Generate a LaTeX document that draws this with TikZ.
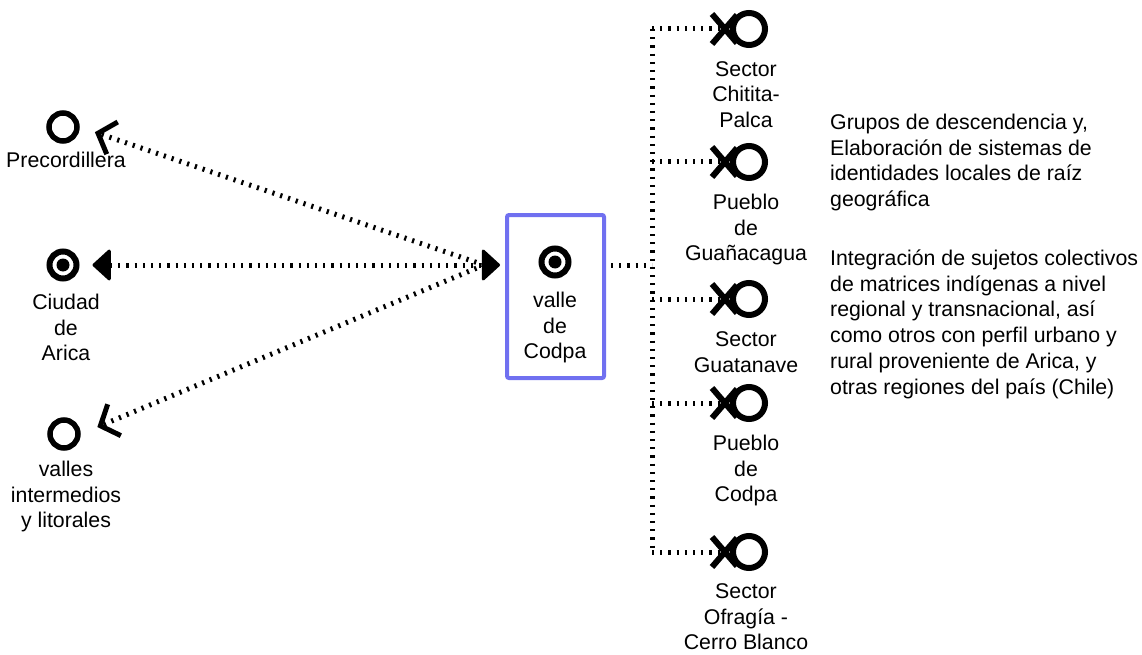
\documentclass[tikz,border=0pt]{standalone}
\usepackage{fontspec}
\setmainfont{Liberation Sans}
\usetikzlibrary{arrows.meta,calc}
\definecolor{frameblue}{RGB}{112,112,240}
% fixed first-line height so every label hangs from a known top
\newcommand\firststrut{\rule{0pt}{17pt}}
\begin{document}
\begin{tikzpicture}[x=1pt,y=-1pt,
  every node/.style={inner sep=0pt},
  lbl/.style={anchor=north,align=center,font=\fontsize{21.3}{25.8}\selectfont},
  note/.style={anchor=north west,align=left,font=\fontsize{21.3}{25.8}\selectfont},
  ring/.style={circle,draw,line width=5.5pt,minimum size=28pt},
  target/.style={circle,draw,line width=6pt,minimum size=27pt},
  actor/.style={circle,draw,line width=6pt,minimum size=32pt},
  xarm/.style={line width=6pt},
  dotline/.style={line width=5pt,dash pattern=on 2.2pt off 6pt},
  solidtri/.tip={Triangle[length=19pt,width=34pt,round,line width=3pt]},
  openbarb/.tip={Straight Barb[length=15pt,width=34pt,sharp,line width=5pt]},
]
\useasboundingbox (0,0) rectangle (1142,655);

% ---- places on the left
\node[ring] (precord) at (63,127) {};
\node[lbl] (precordlbl) at (66,150) {\firststrut Precordillera};

\node[target] (ciudad) at (63,265) {};
\fill (ciudad.center) circle (6.5pt);
\node[lbl] (ciudadlbl) at (66,292) {\firststrut Ciudad\\de\\Arica};

\node[ring] (valles) at (64,434) {};
\node[lbl] (valleslbl) at (66,459) {\firststrut valles\\intermedios\\y litorales};

% ---- the valley in its frame
\node[draw=frameblue,line width=4pt,rounded corners=2pt,
      minimum width=97pt,minimum height=163pt] (codpabox) at (555.5,296.5) {};
\node[target] (codpa) at (555,262) {};
\fill (codpa.center) circle (6.5pt);
\node[lbl] (codpalbl) at (555,290) {\firststrut valle\\de\\Codpa};

% ---- sectors and villages of the valley
\foreach \n/\y in {chitita/29,guanacagua/162,guatanave/299,pueblocodpa/403,ofragia/552}{
  \node[actor] (\n) at (749,\y) {};
  \draw[xarm] ($(\n)+(-37,-15)$) -- ($(\n)+(-12,14)$);
  \draw[xarm] ($(\n)+(-37,15)$) -- ($(\n)+(-12,-14)$);
  \coordinate (\n-x) at ($(\n)+(-24.5,0)$);
}
\node[lbl] (chititalbl) at (746,59) {\firststrut Sector\\Chitita-\\Palca};
\node[lbl] (guanacagualbl) at (746,192) {\firststrut Pueblo\\de\\Guañacagua};
\node[lbl] (guatanavelbl) at (746,329) {\firststrut Sector\\Guatanave};
\node[lbl] (pueblocodpalbl) at (746,433) {\firststrut Pueblo\\de\\Codpa};
\node[lbl] (ofragialbl) at (746,581) {\firststrut Sector\\Ofragía -\\Cerro Blanco};

% ---- notes
\node[note] (note1) at (830,112) {\firststrut Grupos de descendencia y,\\Elaboración de sistemas de\\identidades locales de raíz\\geográfica};
\node[note] (note2) at (830,248) {\firststrut Integración de sujetos colectivos\\de matrices indígenas a nivel\\regional y transnacional, así\\como otros con perfil urbano y\\rural proveniente de Arica, y\\otras regiones del país (Chile)};

% ---- connectors
\coordinate (hub) at (484,265);
\coordinate (spine) at (652,265);

\draw[dotline,-{openbarb},shorten >=16pt] (hub) -- (precord.east);
\draw[dotline,-{openbarb},shorten >=18pt] (hub) -- (valles.east);
\draw[dotline,{solidtri}-{solidtri},shorten <=13pt,shorten >=5pt]
  (ciudad.east) -- (codpabox.west |- ciudad);

\draw[dotline,shorten <=5pt] (codpabox.east |- spine) -- (spine);
\draw[dotline] (spine |- chitita) -- (spine |- ofragia);
\foreach \n in {chitita,guanacagua,guatanave,pueblocodpa,ofragia}
  \draw[dotline] (spine |- \n) -- (\n-x);
\end{tikzpicture}
\end{document}
